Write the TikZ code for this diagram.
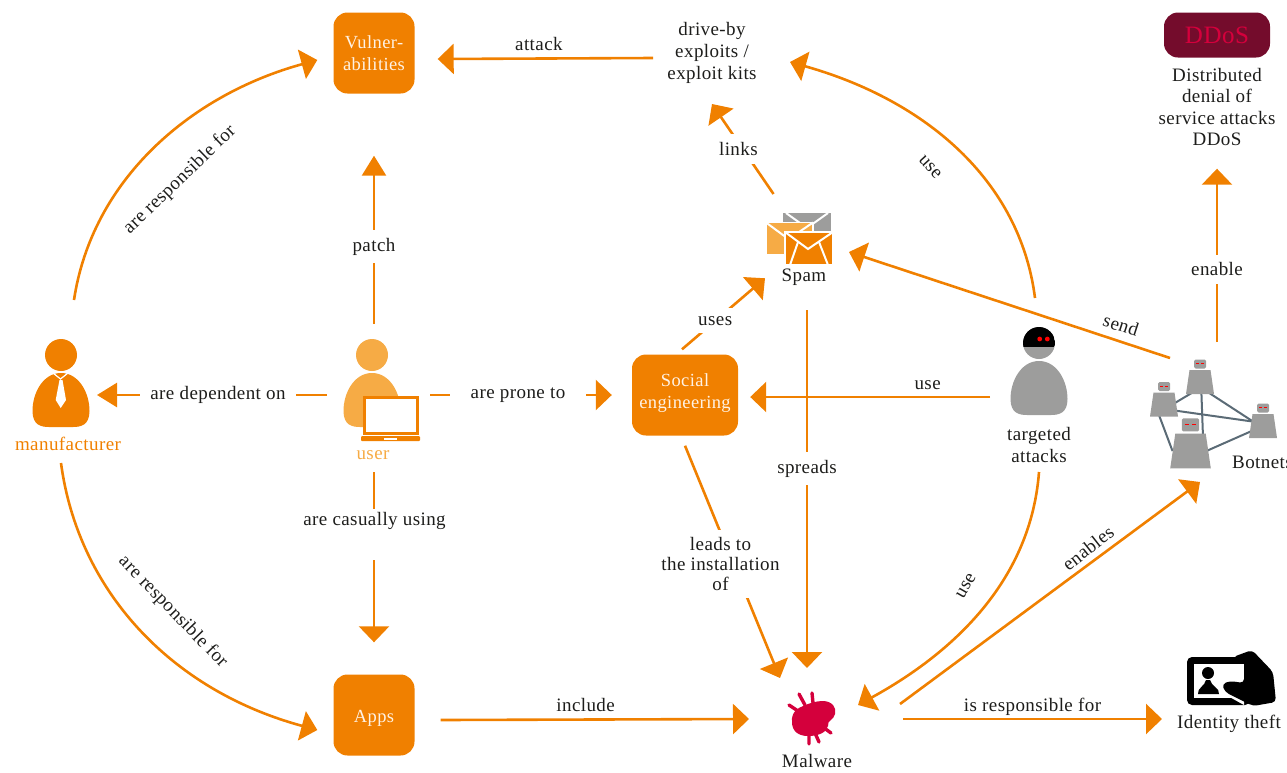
\documentclass[tikz,border=0pt]{standalone}
\usepackage{fontspec}
\setmainfont[LetterSpace=2.2]{Liberation Serif}
\usetikzlibrary{arrows.meta}

\definecolor{mainorange}{HTML}{F08000}
\definecolor{lightorange}{HTML}{F6AB45}
\definecolor{midgray}{HTML}{9D9D9C}
\definecolor{linkgray}{HTML}{5B6B76}
\definecolor{inktext}{HTML}{1D1D1B}
\definecolor{crimson}{HTML}{D4003C}
\definecolor{darkred}{HTML}{740C2C}
\definecolor{creamtext}{HTML}{FFF2E4}

\tikzset{
    conn/.style={draw=mainorange, line width=2.6pt, -{Triangle[length=16pt,width=30pt]}},
    longhead/.style={-{Triangle[length=20pt,width=24pt]}},
    txt/.style={align=center, text=inktext, inner sep=0pt, font=\fontsize{19}{22}\selectfont},
    gaplabel/.style={txt, fill=white, inner xsep=10pt, inner ysep=8pt},
    overlabel/.style={txt, text height=12pt, text depth=4pt, above=2.5pt},
    zone/.style={inner sep=0pt, outer sep=0pt, draw=none},
    box/.style={fill=mainorange, rounded corners=14pt, text=creamtext, align=center, inner sep=0pt, font=\fontsize{18.5}{22}\selectfont},
    person/.pic={
        \fill (0,0) circle (16pt);
        \fill (0,18) .. controls (18,18) and (28.5,38) .. (28.5,56) .. controls (28.5,70) and (20,72) .. (12,72)
            -- (-12,72) .. controls (-20,72) and (-28.5,70) .. (-28.5,56) .. controls (-28.5,38) and (-18,18) .. (0,18) -- cycle;
    },
    envelope/.pic={
        \fill[draw=white, line width=1.2pt] (0,0) rectangle (48,33);
        \draw[white, line width=2pt] (0,0) -- (23,17) -- (48,0);
    },
    robot/.pic={
        \fill[midgray] (-10.5,-12) -- (10.5,-12) -- (14,12) -- (-14,12) -- cycle;
        \fill[midgray, rounded corners=1.5pt] (-6,-22.5) rectangle (6,-13.5);
        \draw[red, line width=.7pt] (-4,-18.5) -- (-1,-18.5) (1,-18.5) -- (4,-18.5);
    }
}

\begin{document}
\begin{tikzpicture}[x=1pt, y=-1pt]
    \useasboundingbox (0,0) rectangle (1287,772);

    % boxes
    \node[box, minimum width=81pt, minimum height=81pt] (vuln) at (374,53) {Vulner-\\abilities};
    \node[box, minimum width=106pt, minimum height=81pt] (social) at (685,395) {\raisebox{2pt}[\height][\depth]{Social}\\\raisebox{2pt}[\height][\depth]{engineering}};
    \node[box, minimum width=81pt, minimum height=81pt] (apps) at (374,715) {\raisebox{-3pt}[\height][\depth]{Apps}};
    \node[box, fill=darkred, text=crimson, minimum width=106pt, minimum height=45pt, font=\fontsize{25}{27}\selectfont] (ddos) at (1217,35) {DDoS};

    % areas held by the icons
    \node[zone, minimum width=72pt, minimum height=136pt] (manuf) at (61,395) {};
    \node[zone, minimum width=94pt, minimum height=142pt] (user) at (374,395) {};
    \node[zone, minimum width=118pt, minimum height=92pt] (drive) at (712,58) {};
    \node[zone, minimum width=84pt, minimum height=116pt] (spam) at (807,252) {};
    \node[zone, minimum width=98pt, minimum height=198pt] (target) at (1039,397) {};
    \node[zone, minimum width=100pt, minimum height=140pt] (botnet) at (1217,412) {};
    \node[zone, minimum width=116pt, minimum height=102pt] (malware) at (807,719) {};
    \node[zone, minimum width=142pt, minimum height=120pt] (identity) at (1233,719) {};

    % texts
    \node[txt] (driveText) at (712,53) {drive-by\\exploits /\\exploit kits};
    \node[txt] (ddosText) at (1217,107) {Distributed\\[-.6pt]denial of\\[-.6pt]service attacks\\[-.6pt]DDoS};
    \node[txt] (spamText) at (804,277) {Spam};
    \node[txt, text=mainorange] (manufText) at (68,444) {manufacturer};
    \node[txt, text=lightorange] (userText) at (373,455) {user};
    \node[txt] (targetText) at (1039,445) {targeted\\attacks};
    \node[txt, anchor=west] (botnetText) at (1232,462) {Botnets};
    \node[txt] (malwareText) at (817,761) {Malware};
    \node[txt] (identityText) at (1229,724) {Identity theft};
    \node[txt] (lCasual) at (374.5,520.5) {are casually using};

    % manufacturer
    \pic[mainorange] at (61,355) {person};
    \draw[white, line width=1.2pt] (53,373) -- (60.5,379) -- (68,373);
    \fill[white] (59.5,380) -- (62.5,380) -- (66,400) -- (60.7,408) -- (55.7,400) -- cycle;

    % user
    \pic[lightorange] at (372,355) {person};
    \draw[mainorange, fill=white, line width=3pt] (364,397) rectangle (417,433.5);
    \fill[mainorange, rounded corners=1pt] (361,436) rectangle (420,441);
    \fill[white] (384,437.5) rectangle (397,439.5);

    % attacker
    \pic[midgray] at (1039,343) {person};
    \begin{scope}
        \clip (1039,343) circle (16pt);
        \fill (1023,327) rectangle (1055,347);
    \end{scope}
    \fill[red] (1039.7,339) circle (2.4pt) (1047.3,339) circle (2.4pt);

    % mails
    \fill[midgray] (783,213) rectangle (831,234);
    \draw[white, line width=2pt] (786,213) -- (807,228) -- (828,213);
    \pic[lightorange, scale=.98] at (766,222.5) {envelope};
    \pic[mainorange] at (785,232) {envelope};
    \draw[white, line width=2pt] (790,265) -- (798,242) (828,265) -- (819,242);

    % bug
    \fill[crimson] (792,722) .. controls (791,712) and (798,708) .. (803,706) .. controls (810,703) and (816,701) .. (823,701)
        .. controls (832,701) and (837,708) .. (835,714) .. controls (834,720) and (827,720) .. (828,726)
        .. controls (826,733) and (818,736) .. (808,736) .. controls (798,736) and (792,731) .. (792,722) -- cycle;
    \draw[crimson, line width=3.4pt, line cap=round] (799,694) -- (805,705) (812,693) -- (813,703) (789,705) -- (798,711)
        (831,733) -- (823,727) (819,742) -- (815,733) (809,744) -- (809,735);

    % card and hand
    \fill[rounded corners=5pt] (1187,657) rectangle (1250,705);
    \fill[white] (1194,664) rectangle (1244,698);
    \fill[white] (1226,695) -- (1244,695) -- (1244,705) -- cycle;
    \fill (1208,673) circle (6pt);
    \fill (1198,694) .. controls (1197,688) and (1205,686) .. (1206,680) -- (1210,680)
        .. controls (1211,686) and (1220,688) .. (1219,694) -- cycle;
    \fill[rounded corners=4pt] (1233,657) -- (1252,650) -- (1273,672) -- (1276,702) -- (1253,706)
        -- (1225,692) -- (1222,684) -- (1230,681) -- (1244,683) -- (1244,657) -- cycle;

    % botnet
    \coordinate (botA) at (1200,382);
    \coordinate (botB) at (1164,404.5);
    \coordinate (botC) at (1263,426);
    \coordinate (botD) at (1190.5,451);
    \draw[linkgray, line width=2pt] ([yshift=-6pt]botA) -- ([yshift=-5pt]botB);
    \draw[linkgray, line width=2pt] ([yshift=-5pt]botA) -- ([yshift=-2pt]botC);
    \draw[linkgray, line width=2pt] ([xshift=1pt]botA) -- ([xshift=13pt]botD);
    \draw[linkgray, line width=2pt] ([yshift=-4.5pt]botB) -- ([yshift=3pt]botC);
    \draw[linkgray, line width=2pt] ([xshift=-9pt]botB) -- ([xshift=-18pt]botD);
    \draw[linkgray, line width=2pt] ([yshift=-7pt]botD) -- (botC);
    \pic at (botA) {robot};
    \pic at (botB) {robot};
    \pic at (botC) {robot};
    \pic[scale=1.45] at (botD) {robot};

    % connectors
    \draw[conn] (drive.west) -- node[overlabel, pos=.53] (lAttack) {attack} ([shift={(23pt,-6pt)}]vuln.east);
    \draw[conn] (spam.120) -- node[gaplabel, pos=.49, xshift=-5pt, yshift=1pt] (lLinks) {links} (drive.south);
    \draw[conn, longhead] (user.north) -- node[gaplabel, pos=.46] (lPatch) {patch} ([yshift=-62pt]vuln.south);
    \draw[conn, longhead] (user.west) -- node[gaplabel, pos=.474] (lDepend) {are dependent on} (manuf.east);
    \draw[conn] ([xshift=9pt]user.east) -- node[gaplabel, inner xsep=21pt, pos=.484] (lProne) {are prone to} ([xshift=-20pt]social.west);
    \draw[conn, -] ([yshift=-6pt]user.south) -- ([xshift=-.5pt, yshift=3pt]lCasual.north);
    \draw[conn] ([xshift=-.5pt, yshift=-31pt]lCasual.south) -- ([yshift=32pt]apps.north);
    \draw[conn] ([shift={(-3pt,5pt)}]social.north) -- node[gaplabel, pos=.4] (lUses) {uses} (spam.212);
    \draw[conn] (target.west) -- node[overlabel, pos=.26] (lUseSocial) {use} ([shift={(12pt,-2pt)}]social.east);
    \draw[conn] (spam.south) -- node[gaplabel, pos=.44, yshift=-1pt] (lSpreads) {spreads} (malware.north);
    \draw[conn] ([yshift=-10pt]social.south) -- node[gaplabel, inner ysep=7pt, xshift=-12pt, yshift=-2pt, pos=.5] (lLeads) {leads to\\[-2pt]the installation\\[-2pt]of} ([shift={(-27pt,-10pt)}]malware.north);
    \draw[conn] ([shift={(26pt,-5pt)}]apps.east) -- node[overlabel, pos=.47] (lInclude) {include} (malware.west);
    \draw[conn] ([xshift=38pt]malware.east) -- node[overlabel, pos=.5] (lResp) {is responsible for} (identity.west);
    \draw[conn] ([shift={(35pt,15pt)}]malware.east) -- ([xshift=-17pt]botnet.south);
    \draw[conn] ([shift={(-47pt,-16pt)}]botnet.north) -- (spam.east);
    \draw[conn] (botnet.north) -- node[gaplabel, pos=.42] (lEnable) {enable} ([yshift=-111pt]ddos.south);
    \draw[conn] ([xshift=-4pt]target.north) .. controls (1020,180) and (925,100) .. ([shift={(19pt,-4pt)}]drive.east);
    \draw[conn] ([yshift=24pt]target.south) .. controls (1030,590) and (940,660) .. ([shift={(-7pt,14pt)}]malware.east);
    \draw[conn] ([shift={(13pt,27pt)}]manuf.north) .. controls (92,180) and (190,95) .. ([shift={(-16pt,-7pt)}]vuln.west);
    \draw[conn] (manuf.south) .. controls (78,590) and (170,690) .. ([shift={(-16pt,-15pt)}]apps.west);

    % labels along the connectors
    \node[txt, rotate=44] (lRespVuln) at (180,180) {are responsible for};
    \node[txt, rotate=-46] (lRespApps) at (173,612) {are responsible for};
    \node[txt, rotate=-48] (lUseDrive) at (930,167) {use};
    \node[txt, rotate=60] (lUseMal) at (966,586) {use};
    \node[txt, rotate=38] (lEnables) at (1088,548) {enables};
    \node[txt, rotate=-18] (lSend) at (1121,325) {send};
\end{tikzpicture}
\end{document}
